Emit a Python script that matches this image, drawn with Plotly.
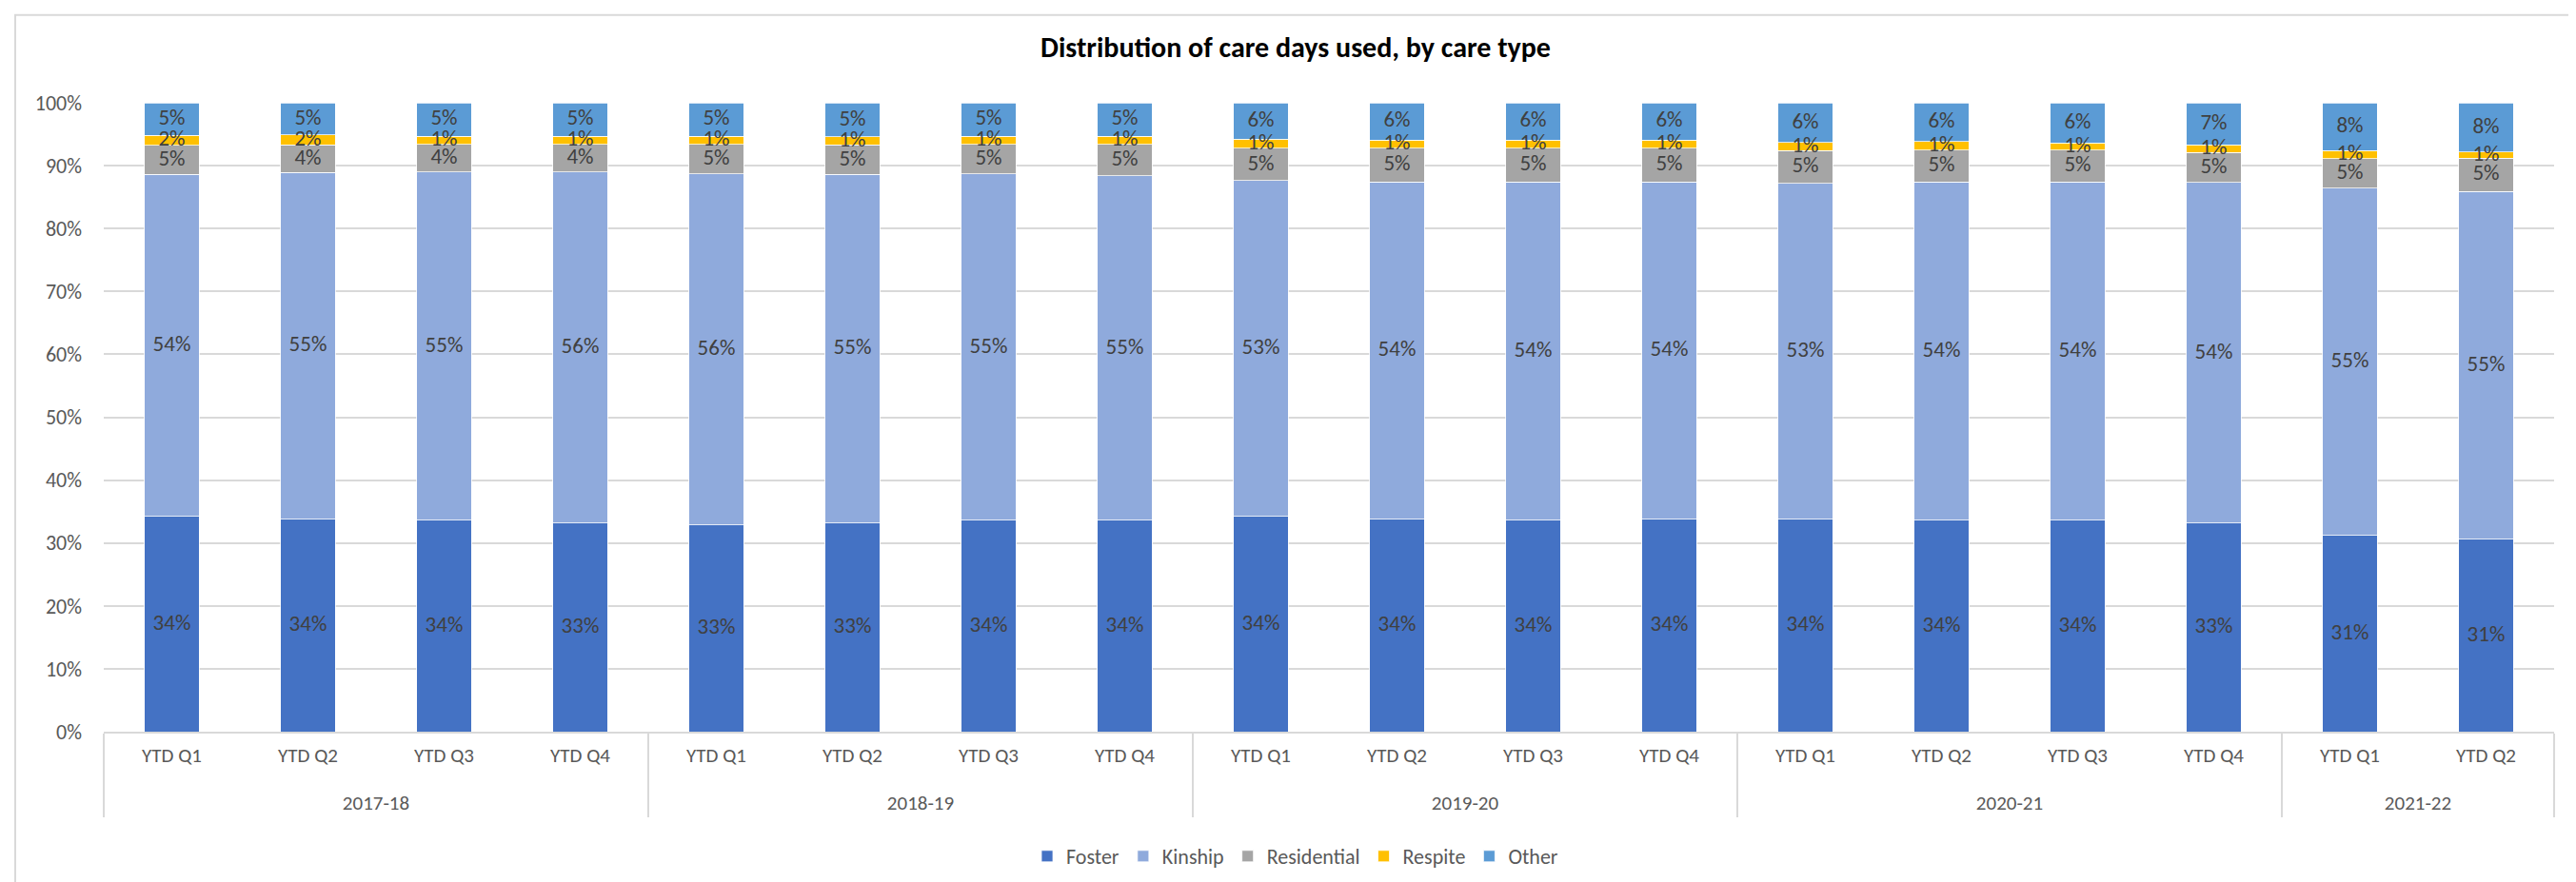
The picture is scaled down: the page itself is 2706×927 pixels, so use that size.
import plotly.graph_objects as go

# ---- data ----
years = ["2017-18"] * 4 + ["2018-19"] * 4 + ["2019-20"] * 4 + ["2020-21"] * 4 + ["2021-22"] * 2
quarters = ["YTD Q1", "YTD Q2", "YTD Q3", "YTD Q4"] * 4 + ["YTD Q1", "YTD Q2"]

foster = [34.2, 33.8, 33.6, 33.2, 32.9, 33.2, 33.6, 33.6, 34.2, 33.8, 33.6, 33.8,
          33.8, 33.6, 33.6, 33.2, 31.2, 30.6]
kinship = [54.4, 55.1, 55.4, 55.8, 55.8, 55.4, 55.1, 54.8, 53.4, 53.6, 53.8, 53.6,
           53.4, 53.8, 53.8, 54.1, 55.2, 55.3]
residential = [4.6, 4.4, 4.4, 4.4, 4.7, 4.7, 4.7, 5.0, 5.2, 5.4, 5.4, 5.4,
               5.2, 5.1, 5.1, 4.8, 4.7, 5.3]
respite = [1.6, 1.6, 1.3, 1.3, 1.3, 1.3, 1.3, 1.3, 1.4, 1.3, 1.3, 1.3,
           1.3, 1.3, 1.1, 1.2, 1.3, 1.0]
other = [5.2, 5.1, 5.3, 5.3, 5.3, 5.4, 5.3, 5.3, 5.8, 5.9, 5.9, 5.9,
         6.3, 6.2, 6.4, 6.7, 7.6, 7.8]

series_names = ["Foster", "Kinship", "Residential", "Respite", "Other"]
series_values = [foster, kinship, residential, respite, other]
series_colors = ["#4472C4", "#8FAADC", "#A5A5A5", "#FFC000", "#5B9BD5"]

y_ticks = list(range(0, 101, 10))
y_tick_text = [f"{v}%" for v in y_ticks]

FONT = "Carlito, Calibri, Lato, sans-serif"

# quarter labels get a blank second line so the year row sits lower, like the original
x_quarter_labels = [q + "<br> " for q in quarters]
xcat = [years, x_quarter_labels]

fig = go.Figure()
for name, vals, col in zip(series_names, series_values, series_colors):
    fig.add_trace(go.Bar(
        name=name,
        x=xcat,
        y=vals,
        marker=dict(color=col, line=dict(color="rgba(255,255,255,0.75)", width=1)),
        hoverinfo="skip",
    ))

# data labels centred in each stacked segment
base = [0.0] * len(years)
for vals in series_values:
    mids = [b + v / 2 for b, v in zip(base, vals)]
    fig.add_trace(go.Scatter(
        x=xcat, y=mids,
        mode="text",
        text=[f"{v:.0f}%" for v in vals],
        textposition="middle center",
        textfont=dict(family=FONT, size=23, color="#404040"),
        showlegend=False,
        hoverinfo="skip",
        cliponaxis=False,
    ))
    base = [b + v for b, v in zip(base, vals)]

fig.update_layout(
    width=2706, height=927,
    barmode="stack",
    bargap=0.595,
    paper_bgcolor="white",
    plot_bgcolor="white",
    margin=dict(l=101, r=31, t=100, b=166),
    title=dict(
        text="<b>Distribution of care days used, by care type</b>",
        x=0.5, xref="container", xanchor="center",
        y=1 - 41 / 927, yref="container", yanchor="middle",
        font=dict(family=FONT, size=30, color="#000000"),
    ),
    legend=dict(
        orientation="h",
        x=0.5, xref="container", xanchor="center",
        y=1 - 892 / 927, yref="container", yanchor="middle",
        traceorder="normal",
        font=dict(family=FONT, size=22, color="#595959"),
        itemwidth=30,
    ),
    showlegend=True,
)

fig.update_yaxes(
    range=[0, 100],
    tickmode="array",
    tickvals=y_ticks,
    ticktext=y_tick_text,
    showgrid=True,
    gridcolor="#D9D9D9",
    gridwidth=2,
    zeroline=False,
    showline=False,
    ticklabelstandoff=22,
    tickfont=dict(family=FONT, size=22, color="#595959"),
)

fig.update_xaxes(
    type="multicategory",
    range=[-0.5, len(years) - 0.5],
    showline=True,
    linecolor="#D9D9D9",
    linewidth=2,
    showgrid=False,
    tickangle=0,
    dividercolor="#D9D9D9",
    dividerwidth=2,
    showdividers=True,
    ticklabelstandoff=5,
    tickfont=dict(family=FONT, size=21, color="#595959"),
    ticks="",
)

# chart-area border
fig.add_shape(
    type="rect", xref="paper", yref="paper",
    x0=(8 - 101) / 2574, x1=(2702 - 101) / 2574,
    y0=(761 - 922) / 660, y1=(761 - 9) / 660,
    line=dict(color="#D9D9D9", width=2),
    fillcolor="rgba(0,0,0,0)", layer="below",
)

fig.write_html("out.html")
